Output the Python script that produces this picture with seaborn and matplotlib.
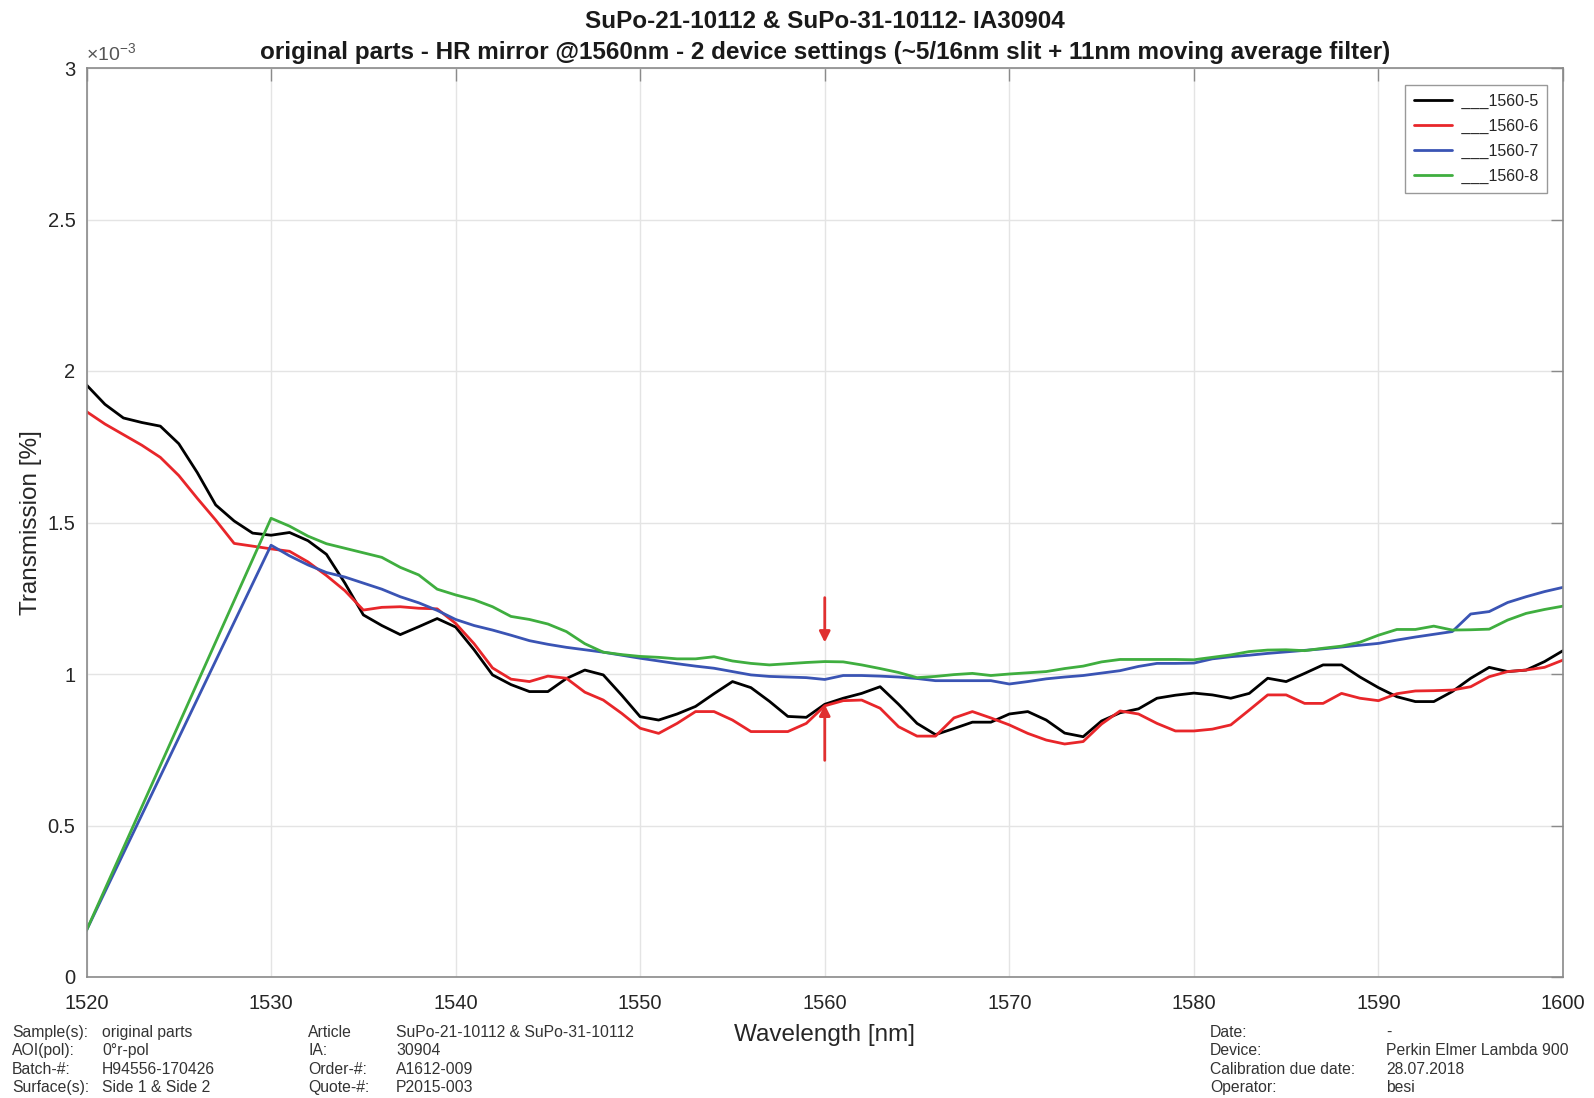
import numpy as np
import pandas as pd
import matplotlib
matplotlib.use("Agg")
import matplotlib.pyplot as plt
from matplotlib.ticker import FixedLocator, FormatStrFormatter
import seaborn as sns

# ---- measured transmission (units of 1e-3 %) ----
wl_full = np.arange(1520, 1601)          # 1 nm steps
wl_gap = np.concatenate(([1520], np.arange(1530, 1601)))

t_1560_5 = [
    1.954, 1.890, 1.845, 1.830, 1.818, 1.760, 1.665, 1.558, 1.505, 1.465,
    1.458, 1.467, 1.440, 1.395, 1.300, 1.195, 1.160, 1.130, 1.156, 1.183,
    1.155, 1.080, 0.997, 0.965, 0.942, 0.942, 0.985, 1.013, 0.997, 0.930,
    0.859, 0.848, 0.868, 0.893, 0.935, 0.975, 0.955, 0.910, 0.860, 0.857,
    0.900, 0.920, 0.936, 0.958, 0.900, 0.837, 0.800, 0.820, 0.841, 0.841,
    0.868, 0.876, 0.848, 0.805, 0.793, 0.845, 0.872, 0.885, 0.920, 0.930,
    0.937, 0.931, 0.920, 0.936, 0.986, 0.975, 1.002, 1.030, 1.030, 0.990,
    0.955, 0.925, 0.909, 0.909, 0.942, 0.986, 1.022, 1.008, 1.013, 1.041,
    1.077,
]
t_1560_6 = [
    1.866, 1.825, 1.790, 1.755, 1.715, 1.655, 1.580, 1.508, 1.431, 1.422,
    1.413, 1.405, 1.370, 1.325, 1.275, 1.211, 1.220, 1.222, 1.217, 1.215,
    1.167, 1.100, 1.020, 0.983, 0.975, 0.993, 0.986, 0.940, 0.914, 0.870,
    0.821, 0.804, 0.837, 0.876, 0.876, 0.848, 0.810, 0.810, 0.810, 0.837,
    0.895, 0.912, 0.914, 0.887, 0.826, 0.795, 0.795, 0.855, 0.876, 0.855,
    0.832, 0.804, 0.782, 0.769, 0.777, 0.835, 0.878, 0.868, 0.837, 0.812,
    0.812, 0.818, 0.832, 0.881, 0.931, 0.931, 0.903, 0.903, 0.936, 0.920,
    0.912, 0.935, 0.944, 0.945, 0.947, 0.958, 0.991, 1.008, 1.013, 1.022,
    1.046,
]
t_1560_7 = [
    0.154,
    1.425, 1.390, 1.360, 1.335, 1.320, 1.300, 1.280, 1.255, 1.235, 1.210,
    1.180, 1.160, 1.145, 1.128, 1.110, 1.098, 1.088, 1.080, 1.072, 1.062,
    1.052, 1.043, 1.034, 1.026, 1.019, 1.008, 0.997, 0.992, 0.990, 0.988,
    0.982, 0.995, 0.995, 0.993, 0.990, 0.985, 0.978, 0.978, 0.978, 0.978,
    0.967, 0.975, 0.984, 0.990, 0.995, 1.003, 1.011, 1.025, 1.035, 1.035,
    1.036, 1.050, 1.057, 1.062, 1.068, 1.073, 1.078, 1.083, 1.089, 1.095,
    1.101, 1.112, 1.122, 1.131, 1.140, 1.198, 1.206, 1.236, 1.255, 1.272,
    1.286,
]
t_1560_8 = [
    0.154,
    1.514, 1.488, 1.455, 1.430, 1.415, 1.400, 1.385, 1.352, 1.327, 1.280,
    1.261, 1.245, 1.222, 1.190, 1.180, 1.165, 1.140, 1.100, 1.072, 1.064,
    1.058, 1.055, 1.050, 1.050, 1.057, 1.043, 1.035, 1.030, 1.034, 1.038,
    1.041, 1.040, 1.030, 1.018, 1.005, 0.988, 0.992, 0.998, 1.002, 0.995,
    1.000, 1.004, 1.008, 1.018, 1.026, 1.040, 1.048, 1.048, 1.048, 1.048,
    1.047, 1.055, 1.063, 1.074, 1.079, 1.080, 1.077, 1.085, 1.092, 1.105,
    1.128, 1.147, 1.147, 1.158, 1.145, 1.146, 1.148, 1.178, 1.200, 1.213,
    1.224,
]

series_names = ["1560-5", "1560-6", "1560-7", "1560-8"]
legend_labels = [" ___1560-5", " ___1560-6", " ___1560-7", " ___1560-8"]
series_colors = ["#000000", "#e8262a", "#3a54b4", "#3fae3f"]

x_ticks = [1520, 1530, 1540, 1550, 1560, 1570, 1580, 1590, 1600]
y_ticks = [0, 0.5, 1, 1.5, 2, 2.5, 3]

frames = [
    pd.DataFrame({"wl": wl_full, "T": t_1560_5, "sample": series_names[0]}),
    pd.DataFrame({"wl": wl_full, "T": t_1560_6, "sample": series_names[1]}),
    pd.DataFrame({"wl": wl_gap, "T": t_1560_7, "sample": series_names[2]}),
    pd.DataFrame({"wl": wl_gap, "T": t_1560_8, "sample": series_names[3]}),
]
df = pd.concat(frames, ignore_index=True)

sns.set_style("white")
plt.rcParams["font.family"] = ["Liberation Sans", "DejaVu Sans"]
plt.rcParams["mathtext.fontset"] = "custom"
plt.rcParams["mathtext.rm"] = "Liberation Sans"
plt.rcParams["mathtext.it"] = "Liberation Sans"

W, H = 1594, 1098
fig = plt.figure(figsize=(W / 100, H / 100), dpi=100)
ax = fig.add_axes([86.5 / W, 1 - 977 / H, (1563 - 86.5) / W, (977 - 68) / H])

sns.lineplot(data=df, x="wl", y="T", hue="sample", palette=series_colors,
             hue_order=series_names, linewidth=2.0, ax=ax, sort=False,
             estimator=None, legend=False)

ax.set_xlim(1520, 1600)
ax.set_ylim(0, 3)
ax.xaxis.set_major_locator(FixedLocator(x_ticks))
ax.yaxis.set_major_locator(FixedLocator(y_ticks))
ax.yaxis.set_major_formatter(FormatStrFormatter("%g"))
ax.grid(True, color="#e4e4e4", linewidth=1.0)
ax.set_axisbelow(True)
for s in ax.spines.values():
    s.set_visible(True)
    s.set_color("#8a8a8a")
    s.set_linewidth(1.2)
ax.tick_params(axis="both", direction="in", length=9, width=1.0,
               color="#8a8a8a", labelsize=14.5, labelcolor="#262626",
               top=True, right=True, pad=8)
ax.tick_params(axis="x", pad=12)

ax.set_xlabel("Wavelength [nm]", fontsize=17.5, color="#262626", labelpad=8)
ax.set_ylabel("Transmission [%]", fontsize=17.5, color="#262626", labelpad=4)

ax.text(0.0, 1.004, r"$\times10^{-3}$", transform=ax.transAxes,
        fontsize=14, color="#555555", ha="left", va="bottom")

# markers at 1560 nm
ax.annotate("", xy=(1560, 1.104), xytext=(1560, 1.252),
            arrowprops=dict(arrowstyle="-|>", color="#e03030", lw=2,
                            mutation_scale=16, shrinkA=0, shrinkB=0))
ax.annotate("", xy=(1560, 0.899), xytext=(1560, 0.715),
            arrowprops=dict(arrowstyle="-|>", color="#e03030", lw=2,
                            mutation_scale=16, shrinkA=0, shrinkB=0))

leg = ax.legend(ax.lines[:4], legend_labels, loc="upper right",
                bbox_to_anchor=(1 - 16 / 1476.5, 1 - 17 / 909),
                borderaxespad=0, fontsize=11.5, frameon=True, fancybox=False,
                framealpha=1, edgecolor="#999999", handlelength=2.4,
                handletextpad=0.3, labelspacing=0.62, borderpad=0.55)
leg.get_frame().set_linewidth(1.0)
for t in leg.get_texts():
    t.set_color("#262626")

fig.text(825 / W, 1 - 22 / H, "SuPo-21-10112 & SuPo-31-10112- IA30904",
         ha="center", va="center", fontsize=17.5, fontweight="bold", color="#1a1a1a")
fig.text(825 / W, 1 - 52 / H,
         "original parts - HR mirror @1560nm - 2 device settings "
         "(~5/16nm slit + 11nm moving average filter)",
         ha="center", va="center", fontsize=17.5, fontweight="bold", color="#1a1a1a")

# footer information block
rows_base = [1037, 1055, 1073.5, 1092]
footer_cols = [
    (12, ["Sample(s):", "AOI(pol):", "Batch-#:", "Surface(s):"]),
    (102, ["original parts", "0\u00b0r-pol", "H94556-170426", "Side 1 & Side 2"]),
    (308, ["Article", "IA:", "Order-#:", "Quote-#:"]),
    (396, ["SuPo-21-10112 & SuPo-31-10112", "30904", "A1612-009", "P2015-003"]),
    (1210, ["Date:", "Device:", "Calibration due date:", "Operator:"]),
    (1386, ["-", "Perkin Elmer Lambda 900", "28.07.2018", "besi"]),
]
for x, texts in footer_cols:
    for y, t in zip(rows_base, texts):
        fig.text(x / W, 1 - y / H, t, ha="left", va="baseline",
                 fontsize=11.3, color="#333333")

fig.savefig("out.png", dpi=100, facecolor="white")
